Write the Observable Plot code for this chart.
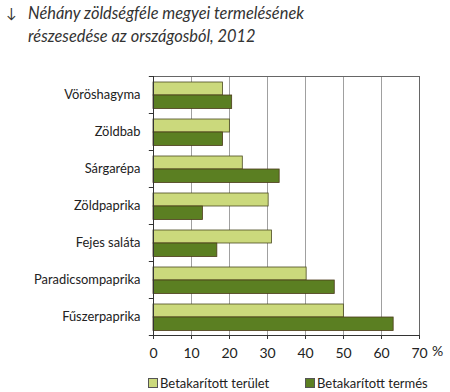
<!DOCTYPE html>
<html><head><meta charset="utf-8">
<script src="https://cdn.jsdelivr.net/npm/d3@7"></script>
<script src="https://cdn.jsdelivr.net/npm/@observablehq/plot@0.6"></script>
<style>
body{margin:0;background:#fff;font-family:Lato,"Open Sans",sans-serif;}
#title{position:absolute;left:0;top:0;width:450px;height:60px;color:#333;font-style:italic;font-size:16.4px;line-height:23px;}
#title .arrow{position:absolute;left:6px;top:1px;font-style:normal;font-size:14px;}
#title .t{position:absolute;left:28px;top:1px;}
#chart{position:absolute;left:0;top:60px;}
#legend{position:absolute;left:0;top:375px;width:450px;height:18px;font-size:13px;color:#222;}
.li{position:absolute;top:0;display:flex;align-items:center;}
.sw{width:8px;height:8px;border:1px solid #555;margin-right:2px;}
</style></head>
<body>
<div id="title"><span class="arrow">↓</span><span class="t">Néhány zöldségféle megyei termelésének<br>részesedése az országosból, 2012</span></div>
<div id="chart"></div>
<div id="legend"></div>
<script>
const categories = ["Vöröshagyma","Zöldbab","Sárgarépa","Zöldpaprika","Fejes saláta","Paradicsompaprika","Fűszerpaprika"];
const seriesNames = ["Betakarított terület","Betakarított termés"];
const terulet = [18.3, 20.1, 23.5, 30.3, 31.2, 40.3, 50.1];
const termes  = [20.7, 18.3, 33.2, 13.0, 16.8, 47.7, 63.2];
const xTicks = [0,10,20,30,40,50,60,70];
const colors = ["#cbd97c","#5b7f22"];

const d1 = categories.map((c,i)=>({cat:c, v:terulet[i]}));
const d2 = categories.map((c,i)=>({cat:c, v:termes[i]}));

const plot = Plot.plot({
  width: 450, height: 305,
  marginTop: 16, marginLeft: 153, marginRight: 31, marginBottom: 30,
  style: {fontFamily: "Lato, 'Open Sans', sans-serif", fontSize: "12px", color: "#222", background: "#fff"},
  x: {domain: [0,70]},
  y: {domain: categories, padding: 0},
  marks: [
    Plot.ruleX(xTicks.slice(1, -1), {x: d => d, stroke: "#a0a0a0", strokeWidth: 1}),
    Plot.barX(d1, {x: "v", y: "cat", fill: colors[0], stroke: "#4b4b22", strokeWidth: 0.8, insetTop: 6, insetBottom: 18}),
    Plot.barX(d2, {x: "v", y: "cat", fill: colors[1], stroke: "#4b3b1a", strokeWidth: 0.8, insetTop: 19, insetBottom: 4.5}),
    Plot.frame({anchor: "top", stroke: "#666"}),
    Plot.frame({anchor: "right", stroke: "#666"}),
    Plot.ruleX([0], {x: d => d, stroke: "#333"}),
    Plot.ruleY(categories, {y: d => d, x1: -1.1, x2: 0, dy: -18.5, stroke: "#333", clip: false}),
    Plot.ruleY(categories.slice(-1), {y: d => d, x1: -1.1, x2: 0, dy: 18.5, stroke: "#333", clip: false}),
    Plot.axisY({tickSize: 0, tickPadding: 13, label: null, fontSize: 12.9}),
    Plot.frame({anchor: "bottom", stroke: "#333"}),
    Plot.axisX({ticks: xTicks, tickSize: 4, tickPadding: 9, label: null, fontSize: 14, fill: "#222", stroke: "#333"}),
    Plot.text(["%"], {x: () => 70, frameAnchor: "bottom", dx: 18, dy: 20, fontSize: 14, fill: "#222"})
  ]
});
document.getElementById("chart").appendChild(plot);

const lg = document.getElementById("legend");
const pos = [148, 305];
seriesNames.forEach((n,i)=>{
  const d = document.createElement("div");
  d.className = "li"; d.style.left = pos[i]+"px";
  d.innerHTML = `<span class="sw" style="background:${colors[i]}"></span><span>${n}</span>`;
  lg.appendChild(d);
});
</script>
</body></html>
